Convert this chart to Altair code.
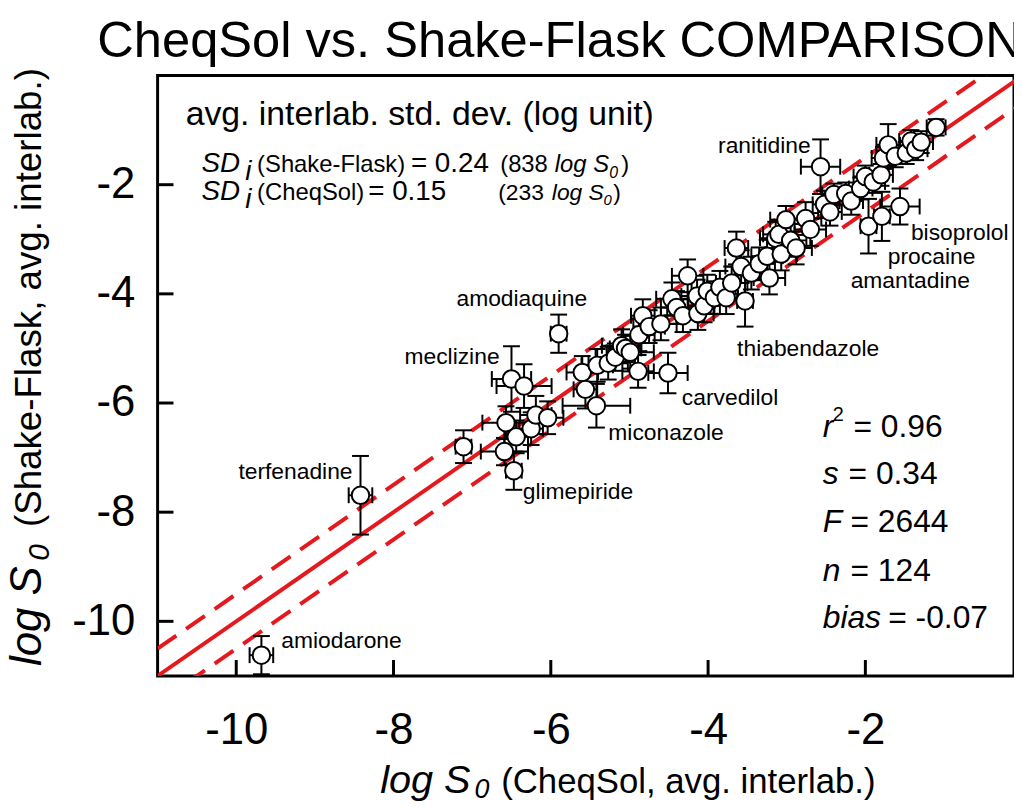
import altair as alt
import pandas as pd

# ---------------- data ----------------
cheqsol = [-9.68, -8.42, -7.11, -6.59, -6.57, -6.44, -6.47, -6.25, -6.19, -6.04,
           -6.50, -6.34, -5.90, -5.60, -5.56, -5.42, -5.41, -5.27, -5.18, -5.10,
           -5.05, -4.99, -4.89, -4.88, -4.83, -4.75, -4.60, -4.51, -4.46, -4.40,
           -4.32, -4.26, -4.14, -4.13, -4.05, -4.01, -3.92, -3.85, -3.77, -3.70,
           -3.64, -3.58, -3.53, -3.45, -3.35, -3.25, -3.22, -3.14, -3.10, -3.07,
           -3.01, -2.95, -2.88, -2.76, -2.70, -2.57, -2.52, -2.45, -2.40, -2.25,
           -2.18, -2.06, -2.00, -1.96, -1.90, -1.80, -1.79, -1.77, -1.71, -1.62,
           -1.56, -1.48, -1.42, -1.36, -1.29, -1.10]
shakeflask = [-10.62, -7.69, -6.80, -6.89, -6.36, -6.62, -7.24, -6.47, -6.22, -6.27,
              -5.56, -5.69, -4.73, -5.44, -5.75, -6.05, -5.31, -5.27, -5.16, -4.95,
              -5.00, -5.07, -5.42, -4.75, -4.40, -4.60, -4.55, -5.45, -4.09, -4.25,
              -4.40, -3.67, -4.04, -4.36, -4.22, -3.95, -4.07, -3.88, -4.07, -3.80,
              -3.16, -3.50, -4.13, -3.62, -3.45, -3.31, -3.71, -2.98, -2.91, -3.27,
              -2.64, -3.02, -3.16, -2.62, -2.82, -1.67, -2.36, -2.50, -2.18, -2.16,
              -2.30, -2.07, -1.85, -2.76, -1.95, -1.82, -2.58, -1.51, -1.27, -1.48,
              -2.40, -1.42, -1.20, -1.35, -1.22, -0.95]
cheqsol_sd = [0.15, 0.15, 0.10, 0.30, 0.30, 0.15, 0.10, 0.15, 0.20, 0.20,
              0.25, 0.35, 0.10, 0.20, 0.15, 0.43, 0.20, 0.25, 0.25, 0.25,
              0.20, 0.30, 0.20, 0.20, 0.15, 0.20, 0.20, 0.25, 0.20, 0.20,
              0.20, 0.20, 0.20, 0.20, 0.20, 0.20, 0.20, 0.20, 0.15, 0.20,
              0.15, 0.20, 0.10, 0.20, 0.20, 0.20, 0.20, 0.20, 0.20, 0.20,
              0.20, 0.20, 0.20, 0.20, 0.20, 0.25, 0.15, 0.15, 0.15, 0.15,
              0.15, 0.15, 0.15, 0.10, 0.15, 0.15, 0.10, 0.15, 0.15, 0.15,
              0.25, 0.15, 0.15, 0.15, 0.15, 0.12]
shakeflask_sd = [0.35, 0.72, 0.30, 0.25, 0.30, 0.30, 0.35, 0.30, 0.35, 0.30,
                 0.60, 0.40, 0.35, 0.30, 0.35, 0.40, 0.30, 0.30, 0.25, 0.30,
                 0.25, 0.30, 0.30, 0.30, 0.30, 0.30, 0.30, 0.37, 0.30, 0.30,
                 0.30, 0.30, 0.30, 0.30, 0.30, 0.30, 0.30, 0.30, 0.30, 0.30,
                 0.30, 0.30, 0.47, 0.30, 0.30, 0.30, 0.30, 0.30, 0.25, 0.30,
                 0.25, 0.30, 0.30, 0.30, 0.30, 0.50, 0.25, 0.25, 0.20, 0.20,
                 0.25, 0.20, 0.20, 0.50, 0.20, 0.20, 0.45, 0.20, 0.38, 0.20,
                 0.33, 0.20, 0.20, 0.20, 0.20, 0.15]
labelled = {0: "amiodarone", 1: "terfenadine", 6: "glimepiride", 10: "meclizine",
            12: "amodiaquine", 15: "miconazole", 27: "carvedilol", 42: "thiabendazole",
            55: "ranitidine", 63: "amantadine", 66: "procaine", 70: "bisoprolol"}
tick_values = [-10, -8, -6, -4, -2]
ref_x = [-11, 0]
ref_offsets = [0.0, 0.5, -0.5]

# ---------------- layout / style ----------------
FONT = "Liberation Sans"
RED = "#e5191d"
W, H = 863, 605
PADL, PADT, PADB = 150.75, 65, 124
PX0, PY0 = 8 + PADL, 8 + PADT   # page position of the plot origin

compound = [""] * len(cheqsol)
for i, n in labelled.items():
    compound[i] = n

df = pd.DataFrame({"x": cheqsol, "y": shakeflask, "xe": cheqsol_sd,
                   "ye": shakeflask_sd, "name": compound})
df["xlo"] = df.x - df.xe
df["xhi"] = df.x + df.xe
df["ylo"] = df.y - df.ye
df["yhi"] = df.y + df.ye

lines = pd.DataFrame([{"lx": xv, "ly": xv + off, "off": off}
                      for off in ref_offsets for xv in ref_x])
ticks_df = pd.DataFrame({"v": tick_values})

xs = alt.Scale(domain=[-11, -0.11], nice=False, zero=False)
ys = alt.Scale(domain=[-11, 0], nice=False, zero=False)
axis_common = dict(values=tick_values, title=None, ticks=False, tickSize=0,
                   domain=False, grid=False, labelFont=FONT, labelFontSize=44,
                   labelColor="black", labelExpr="'' + datum.value",
                   labelOverlap=False, labelFlush=False)
XAX = alt.Axis(labelPadding=33, **axis_common)
YAX = alt.Axis(labelPadding=23, **axis_common)


def X(f):
    return alt.X(f, scale=xs, axis=XAX)


def Y(f):
    return alt.Y(f, scale=ys, axis=YAX)


layers = []

# reference lines
layers.append(alt.Chart(lines[lines.off == 0]).mark_line(
    color=RED, strokeWidth=4, clip=True).encode(x=X("lx:Q"), y=Y("ly:Q")))
layers.append(alt.Chart(lines[lines.off != 0]).mark_line(
    color=RED, strokeWidth=4, strokeDash=[23, 12], clip=True).encode(
    x=X("lx:Q"), y=Y("ly:Q"), detail="off:N"))

# error bars
base = alt.Chart(df)
layers.append(base.mark_rule(color="black", strokeWidth=2).encode(
    x=X("x:Q"), y=Y("ylo:Q"), y2="yhi:Q"))
layers.append(base.mark_rule(color="black", strokeWidth=2).encode(
    x=X("xlo:Q"), x2="xhi:Q", y=Y("y:Q")))
for f in ["ylo", "yhi"]:
    layers.append(base.mark_tick(orient="horizontal", size=17, thickness=2,
                                 color="black", opacity=1).encode(
        x=X("x:Q"), y=Y(f + ":Q")))
for f in ["xlo", "xhi"]:
    layers.append(base.mark_tick(orient="vertical", size=16, thickness=2,
                                 color="black", opacity=1).encode(
        x=X(f + ":Q"), y=Y("y:Q")))

# points
layers.append(base.mark_point(shape="circle", size=310, fill="white", stroke="black",
                              strokeWidth=2, opacity=1, fillOpacity=1).encode(
    x=X("x:Q"), y=Y("y:Q")))

# inward axis ticks
layers.append(alt.Chart(ticks_df).mark_tick(orient="vertical", size=16, thickness=3,
                                            color="black", opacity=1).encode(
    x=X("v:Q"), y=alt.value(H - 8)))
layers.append(alt.Chart(ticks_df).mark_tick(orient="horizontal", size=16, thickness=3,
                                            color="black", opacity=1).encode(
    y=Y("v:Q"), x=alt.value(8)))

# compound labels: (align, dx, dy)
label_style = {
    "ranitidine": ("right", -10, -14), "bisoprolol": ("left", 11, 34),
    "procaine": ("left", 6, 48), "amantadine": ("left", -18, 62),
    "thiabendazole": ("left", -8, 55), "carvedilol": ("left", 14, 32),
    "miconazole": ("left", 12, 35), "glimepiride": ("left", 9, 29),
    "meclizine": ("right", -12, -15), "amodiaquine": ("left", -103, -28),
    "terfenadine": ("right", -8, -16), "amiodarone": ("left", 20, -7),
}
for n, (al, dx, dy) in label_style.items():
    layers.append(alt.Chart(df[df.name == n]).mark_text(
        align=al, baseline="alphabetic", dx=dx, dy=dy, font=FONT, fontSize=23,
        color="black").encode(x=X("x:Q"), y=Y("y:Q"), text="name:N"))


def txt(s, xp, yp, size, italic=False, align="left", angle=0):
    return alt.Chart(pd.DataFrame({"t": [s]})).mark_text(
        align=align, baseline="alphabetic", font=FONT, fontSize=size,
        fontStyle="italic" if italic else "normal", angle=angle,
        color="black").encode(x=alt.value(xp - PX0), y=alt.value(yp - PY0),
                              text="t:N")


texts = [
    # title
    ("CheqSol vs. Shake-Flask COMPARISON", 98, 54, 51, False, 0),
    # std dev box
    ("avg. interlab. std. dev. (log unit)", 187, 123, 34, False, 0),
    ("SD", 203, 170, 28, True, 0), ("i", 247, 178, 28, True, 0),
    ("(Shake-Flask)", 259, 170, 24, False, 0), ("= 0.24", 414, 170, 28, False, 0),
    ("(838", 504, 170, 24, False, 0), ("log S", 559, 170, 24, True, 0),
    ("0", 614, 176, 16, True, 0), (")", 626, 170, 24, False, 0),
    ("SD", 203, 198, 28, True, 0), ("i", 247, 206, 28, True, 0),
    ("(CheqSol)", 259, 198, 24, False, 0), ("= 0.15", 371, 198, 28, False, 0),
    ("(233", 502, 198, 23, False, 0), ("log S", 556, 198, 23, True, 0),
    ("0", 608, 203, 15, True, 0), (")", 618, 198, 23, False, 0),
    # statistics
    ("r", 829, 437, 32, True, 0), ("2", 839, 421, 20, False, 0),
    ("= 0.96", 860, 437, 32, False, 0),
    ("s", 829, 485, 32, True, 0), ("= 0.34", 855, 485, 32, False, 0),
    ("F", 829, 533, 32, True, 0), ("= 2644", 857, 533, 32, False, 0),
    ("n", 829, 582, 32, True, 0), ("= 124", 857, 582, 32, False, 0),
    ("bias", 829, 630, 32, True, 0), ("= -0.07", 895, 630, 32, False, 0),
    # x axis title
    ("log S", 383, 796, 40, True, 0), ("0", 478, 801, 27, True, 0),
    ("(CheqSol, avg. interlab.)", 505, 796, 35, False, 0),
    # y axis title (rotated)
    ("log S", 41, 668, 44, True, 270), ("0", 49, 562, 30, True, 270),
    ("(Shake-Flask, avg. interlab.)", 41, 528, 37, False, 270),
]
for s, xp, yp, size, it, ang in texts:
    layers.append(txt(s, xp, yp, size, it, "left", ang))

chart = alt.layer(*layers).properties(
    width=W, height=H,
    padding={"left": PADL, "top": PADT, "right": 0, "bottom": PADB},
    autosize=alt.AutoSizeParams(type="none"),
    background="white",
).configure_view(stroke="black", strokeWidth=3)

chart.save("out.html", embed_options={"renderer": "svg", "actions": False})
